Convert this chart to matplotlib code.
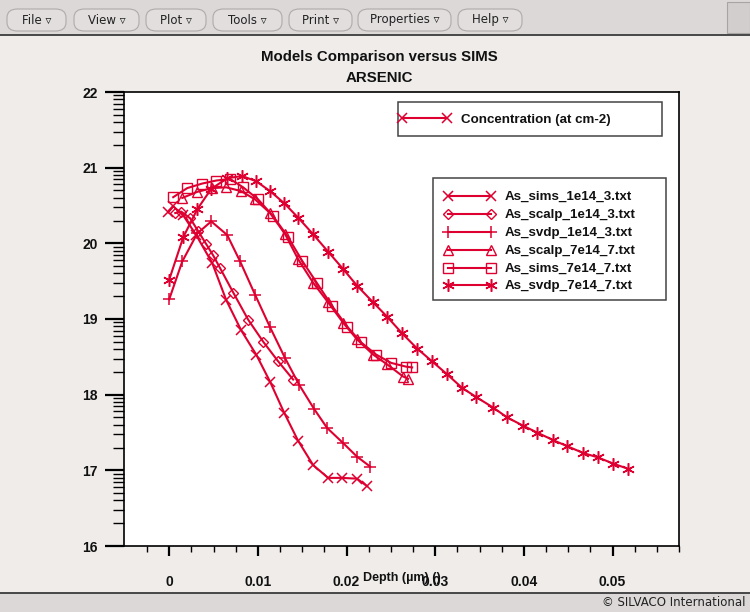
import matplotlib
matplotlib.use("Agg")
import matplotlib.pyplot as plt
import numpy as np
from matplotlib.patches import Rectangle, FancyBboxPatch
from matplotlib.lines import Line2D
from matplotlib.ticker import FixedLocator

# ---------------- data ----------------
sims_1e14_3_x = [-0.0001, 0.00045, 0.00158, 0.00304, 0.00485, 0.00643, 0.00812, 0.00981, 0.01138,
                 0.01297, 0.01454, 0.01623, 0.01792, 0.01950, 0.02119, 0.02232]
sims_1e14_3_y = [20.41, 20.49, 20.37, 20.11, 19.74, 19.25, 18.85, 18.53, 18.17,
                 17.76, 17.39, 17.07, 16.90, 16.90, 16.89, 16.79]

scalp_1e14_3_x = [0.00068, 0.00135, 0.00237, 0.00327, 0.00417, 0.00496, 0.00575, 0.00722, 0.00891,
                  0.01060, 0.01229, 0.01398]
scalp_1e14_3_y = [20.40, 20.42, 20.33, 20.16, 19.99, 19.84, 19.67, 19.35, 18.99,
                  18.70, 18.44, 18.20]

svdp_1e14_3_x = [0.0, 0.00147, 0.00316, 0.00474, 0.00654, 0.00800, 0.00969, 0.01138, 0.01308,
                 0.01466, 0.01635, 0.01781, 0.01962, 0.02119, 0.02266]
svdp_1e14_3_y = [19.26, 19.76, 20.13, 20.29, 20.11, 19.76, 19.32, 18.89, 18.48,
                 18.13, 17.81, 17.56, 17.36, 17.18, 17.05]

scalp_7e14_7_x = [0.00147, 0.00316, 0.00485, 0.00643, 0.00812, 0.00969, 0.01138, 0.01308, 0.01454,
                  0.01623, 0.01792, 0.01962, 0.02119, 0.02300, 0.02458, 0.02638, 0.02695]
scalp_7e14_7_y = [20.60, 20.68, 20.73, 20.74, 20.69, 20.58, 20.40, 20.12, 19.79,
                  19.48, 19.22, 18.95, 18.73, 18.53, 18.40, 18.24, 18.21]

sims_7e14_7_x = [0.00045, 0.00203, 0.00372, 0.00530, 0.00688, 0.00834, 0.01003, 0.01172, 0.01342,
                 0.01499, 0.01669, 0.01838, 0.02007, 0.02165, 0.02334, 0.02503, 0.02672, 0.02740]
sims_7e14_7_y = [20.61, 20.73, 20.79, 20.83, 20.85, 20.74, 20.58, 20.36, 20.08,
                 19.77, 19.47, 19.17, 18.90, 18.69, 18.53, 18.42, 18.37, 18.36]

svdp_7e14_7_x = [0.0, 0.00158, 0.00316, 0.00474, 0.00654, 0.00823, 0.00981, 0.01138, 0.01297,
                 0.01454, 0.01623, 0.01792, 0.01962, 0.02119, 0.02300, 0.02458, 0.02627, 0.02796,
                 0.02965, 0.03134, 0.03303, 0.03461, 0.03653, 0.03811, 0.03991, 0.04149, 0.04329,
                 0.04487, 0.04668, 0.04837, 0.05006, 0.05175]
svdp_7e14_7_y = [19.52, 20.08, 20.45, 20.72, 20.86, 20.89, 20.82, 20.69, 20.53,
                 20.34, 20.12, 19.89, 19.66, 19.44, 19.22, 19.03, 18.81, 18.61,
                 18.44, 18.27, 18.09, 17.97, 17.83, 17.70, 17.59, 17.50, 17.40,
                 17.32, 17.23, 17.17, 17.09, 17.02]

series_labels = ["As_sims_1e14_3.txt", "As_scalp_1e14_3.txt", "As_svdp_1e14_3.txt",
                 "As_scalp_7e14_7.txt", "As_sims_7e14_7.txt", "As_svdp_7e14_7.txt"]
x_major = [0, 0.01, 0.02, 0.03, 0.04, 0.05]
x_labels = ["0", "0.01", "0.02", "0.03", "0.04", "0.05"]
y_major = [16, 17, 18, 19, 20, 21, 22]
y_labels = ["16", "17", "18", "19", "20", "21", "22"]
menu_items = ["File", "View", "Plot", "Tools", "Print", "Properties", "Help"]

# ---------------- style ----------------
W, H = 750, 612
RED = "#de0030"
FONT = "Liberation Sans"
BG = "#efecea"
BAR = "#dcd8d8"

def fx(px):
    return px / W

def fy(py):
    return 1 - py / H

fig = plt.figure(figsize=(W / 100, H / 100), dpi=100, facecolor=BG)

# menu bar
fig.patches.append(Rectangle((0, fy(34)), 1, 1 - fy(34), transform=fig.transFigure,
                             facecolor=BAR, edgecolor="none", zorder=0))
fig.add_artist(Line2D([0, 1], [fy(34.5), fy(34.5)], transform=fig.transFigure,
                      color="#3a3a3a", lw=1.3))
btn_x = [(7, 66), (74, 139), (146, 206), (213, 282), (289, 352), (358, 451), (458, 522)]
for (x0, x1), name in zip(btn_x, menu_items):
    fig.patches.append(FancyBboxPatch((fx(x0), fy(31)), fx(x1) - fx(x0), fy(9) - fy(31),
                                      boxstyle="round,pad=0,rounding_size=0.014",
                                      transform=fig.transFigure, facecolor="#e2dede",
                                      edgecolor="#b0aaaa", lw=0.8, zorder=1))
    fig.text(fx((x0 + x1) / 2), fy(20), name + " \u25bf", ha="center", va="center",
             fontsize=8.5, family="DejaVu Sans", color="#222222", zorder=2)
fig.patches.append(Rectangle((fx(727), fy(33)), fx(750) - fx(727), fy(2) - fy(33),
                             transform=fig.transFigure, facecolor="#d2cece",
                             edgecolor="#a8a4a4", lw=0.8, zorder=1))

# status bar
fig.patches.append(Rectangle((0, 0), 1, fy(593), transform=fig.transFigure,
                             facecolor=BAR, edgecolor="none", zorder=0))
fig.add_artist(Line2D([0, 1], [fy(592.5), fy(592.5)], transform=fig.transFigure,
                      color="#3a3a3a", lw=1.3))
fig.text(fx(745), fy(603), "\u00a9 SILVACO International", ha="right", va="center",
         fontsize=8.5, family="DejaVu Sans", color="#222222")

# titles
fig.text(fx(379), fy(57), "Models Comparison versus SIMS", ha="center", va="center",
         fontsize=10.8, family=FONT, weight="bold", color="#111111")
fig.text(fx(379), fy(78), "ARSENIC", ha="center", va="center",
         fontsize=10.8, family=FONT, weight="bold", color="#111111")

# axes
ax = fig.add_axes([fx(124), fy(546), fx(679) - fx(124), fy(92) - fy(546)])
ax.set_facecolor("white")
ax.set_xlim(-0.0051, 0.0575)
ax.set_ylim(16, 22)
for s in ax.spines.values():
    s.set_linewidth(1.2)
    s.set_color("black")

ax.xaxis.set_major_locator(FixedLocator(x_major))
ax.set_xticklabels(x_labels)
ax.xaxis.set_minor_locator(FixedLocator(np.arange(-0.0025, 0.0576, 0.0025)))
ax.yaxis.set_major_locator(FixedLocator(y_major))
ax.set_yticklabels(y_labels)
y_minor = [d + np.log10(k) for d in range(16, 22) for k in range(2, 10)]
ax.yaxis.set_minor_locator(FixedLocator(y_minor))

ax.tick_params(axis="x", which="major", direction="out", length=7, width=1.6, pad=14,
               labelsize=10)
ax.tick_params(axis="x", which="minor", direction="out", length=4.5, width=1.0)
ax.tick_params(axis="y", which="major", direction="out", length=14, width=1.6, pad=5,
               labelsize=10)
ax.tick_params(axis="y", which="minor", direction="out", length=8, width=1.0)
for lab in ax.get_xticklabels() + ax.get_yticklabels():
    lab.set_fontfamily(FONT)
    lab.set_fontweight("bold")
    lab.set_color("#111111")

fig.text(fx(402), fy(578), "Depth (\u00b5m) ()", ha="center", va="center",
         fontsize=9, family=FONT, weight="bold", color="#111111")

styles = [
    dict(marker="x", ms=7, mew=1.1),
    dict(marker="D", ms=5.5, mew=1.0, mfc="none"),
    dict(marker="+", ms=9, mew=1.1),
    dict(marker="^", ms=7, mew=1.0, mfc="none"),
    dict(marker="s", ms=7.5, mew=1.0, mfc="none"),
    dict(marker=(6, 2, 0), ms=9, mew=1.1),
]
xs = [sims_1e14_3_x, scalp_1e14_3_x, svdp_1e14_3_x, scalp_7e14_7_x, sims_7e14_7_x, svdp_7e14_7_x]
ys = [sims_1e14_3_y, scalp_1e14_3_y, svdp_1e14_3_y, scalp_7e14_7_y, sims_7e14_7_y, svdp_7e14_7_y]
for x, y, st in zip(xs, ys, styles):
    ax.plot(x, y, color=RED, lw=1.5, mec=RED, **st)

# legend 1 (concentration)
fig.patches.append(Rectangle((fx(398), fy(136)), fx(662) - fx(398), fy(102) - fy(136),
                             transform=fig.transFigure, facecolor="white",
                             edgecolor="#444444", lw=1.1, zorder=3))
fig.add_artist(Line2D([fx(402), fx(447)], [fy(118), fy(118)], transform=fig.transFigure,
                      color=RED, lw=1.5, marker="x", ms=7, mew=1.1, zorder=4))
fig.text(fx(461), fy(120), "Concentration (at cm-2)", ha="left", va="center",
         fontsize=9.6, family=FONT, weight="bold", color="#111111", zorder=4)

# legend 2 (series)
fig.patches.append(Rectangle((fx(433), fy(300)), fx(666) - fx(433), fy(178) - fy(300),
                             transform=fig.transFigure, facecolor="white",
                             edgecolor="#444444", lw=1.1, zorder=3))
row_y = [195.7, 214, 232, 250, 267.7, 285]
for ry, lab, st in zip(row_y, series_labels, styles):
    fig.add_artist(Line2D([fx(448), fx(491)], [fy(ry), fy(ry)], transform=fig.transFigure,
                          color=RED, lw=1.5, mec=RED, zorder=4, **st))
    fig.text(fx(505), fy(ry + 1), lab, ha="left", va="center", fontsize=9.6, family=FONT,
             weight="bold", color="#111111", zorder=4)

fig.savefig("out.png", dpi=100, facecolor=BG)
